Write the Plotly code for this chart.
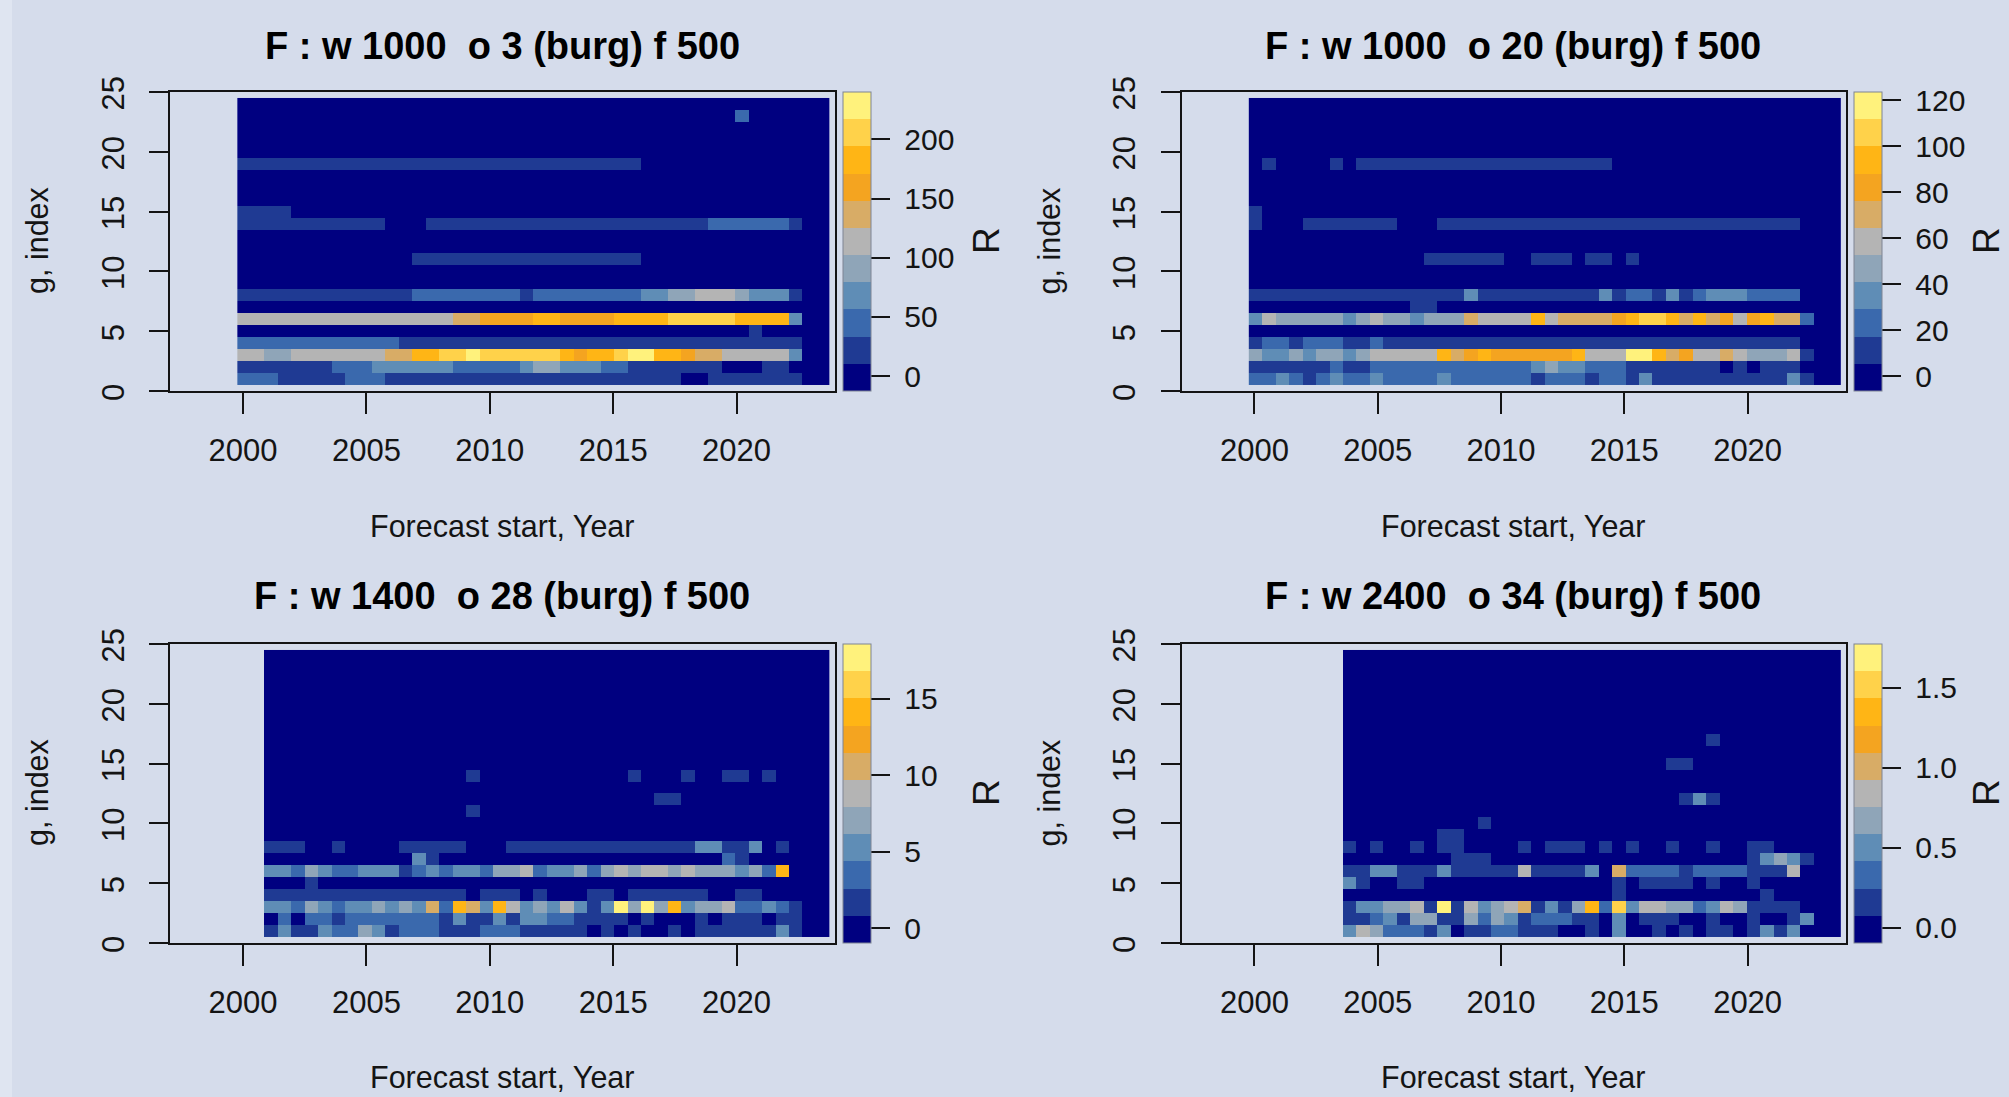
import plotly.graph_objects as go

W, H = 2009, 1097
BG = "#d5dceb"
STRIP = "#dfe5f1"
INK = "#141414"
FONT = "Liberation Sans, Arial, sans-serif"

PALETTE = ["#000080", "#1f3a93", "#3a69ad", "#5f8db6", "#8fa5b8", "#b4b4b4",
           "#d8ac66", "#f4a420", "#ffb515", "#ffd24a", "#fff27c"]

YEAR_TICKS = [2000, 2005, 2010, 2015, 2020]
INDEX_TICKS = [0, 5, 10, 15, 20, 25]
FIRST_EDGE = 1999.77
COL_STEP = 0.5455
N_COLS = 44
N_ROWS = 24

# ---- panel 1: w 1000, o 3 ----
P1_TITLE = "F : w 1000\u00a0\u00a0o 3 (burg) f 500"
P1_ZLIM = [-12.5, 240]
P1_CB_TICKS = [0, 50, 100, 150, 200]
P1_CB_TEXT = ["0", "50", "100", "150", "200"]
P1_R01 = [45]*3+[22]*5+[45]*3+[22]*22+[0]*2+[22]*7+[0]*2
P1_R02 = [22]*7+[45]*3+[68]*6+[45]*5+[68]+[91]*2+[68]*3+[45]*2+[22]*7+[0]*3+[22]*2+[0]*3
P1_R03 = [114]*2+[91]*2+[114]*7+[137]*2+[183]*2+[206]*2+[229]+[206]*6+[183]+[160]+[183]*2+[206]+[229]*2+[183]*2+[160]+[137]*2+[114]*5+[68]+[0]*2
P1_R04 = [45]*12+[22]*30+[0]*2
P1_R05 = [0]*38+[22]+[0]*5
P1_R06 = [114]*16+[137]*2+[160]*4+[183]*2+[160]*4+[183]*4+[206]*5+[183]*4+[68]+[0]*2
P1_R08 = [22]*13+[45]*8+[22]+[45]*8+[68]*2+[91]*2+[114]*3+[91]+[68]*3+[22]+[0]*2
P1_R11 = [0]*13+[22]*17+[0]*14
P1_R14 = [22]*11+[0]*3+[22]*21+[45]*6+[22]+[0]*2
P1_R15 = [22]*4+[0]*40
P1_R19 = [22]*30+[0]*14
P1_R23 = [0]*37+[45]+[0]*6
P1_ROWS = {1: P1_R01, 2: P1_R02, 3: P1_R03, 4: P1_R04, 5: P1_R05, 6: P1_R06,
           8: P1_R08, 11: P1_R11, 14: P1_R14, 15: P1_R15, 19: P1_R19, 23: P1_R23}

# ---- panel 2: w 1000, o 20 ----
P2_TITLE = "F : w 1000\u00a0\u00a0o 20 (burg) f 500"
P2_ZLIM = [-6.4, 123.6]
P2_CB_TICKS = [0, 20, 40, 60, 80, 100, 120]
P2_CB_TEXT = ["0", "20", "40", "60", "80", "100", "120"]
P2_R01 = [23]*2+[35]+[23]+[11]+[23]+[35]+[23]*2+[35]+[23]*4+[35]+[23]*6+[11]+[23]*3+[11]+[23]*2+[11]+[35]+[11]*10+[35]+[11]+[0]*2
P2_R02 = [11]*6+[23]+[11]*2+[23]*12+[35]+[47]+[35]*2+[23]*3+[11]*7+[0]+[11]+[0]+[11]*3+[0]*3
P2_R03 = [47]+[35]*2+[47]+[35]+[47]*2+[35]+[47]+[59]*5+[94]+[70]+[82]+[94]+[82]*6+[94]+[59]*3+[118]*2+[94]+[70]+[82]+[59]*2+[70]+[59]+[47]*3+[59]+[11]+[0]*2
P2_R04 = [11]+[23]*2+[11]+[23]*3+[11]*2+[23]+[11]*31+[0]*3
P2_R06 = [35]+[59]+[47]*5+[35]+[47]+[59]+[47]*2+[35]+[47]*3+[70]+[59]*4+[94]+[59]+[70]*4+[82]+[94]+[106]*2+[94]+[70]+[94]+[70]+[82]+[59]+[82]+[94]+[70]*2+[23]+[0]*2
P2_R07 = [0]*12+[11]*2+[0]*30
P2_R08 = [11]*16+[35]+[11]*9+[35]+[11]+[23]*2+[11]+[35]+[11]+[23]+[35]*3+[23]*4+[0]*3
P2_R11 = [0]*13+[11]*6+[0]*2+[11]*3+[0]+[11]*2+[0]+[11]+[0]*15
P2_R14 = [11]+[0]*3+[11]*7+[0]*3+[11]*27+[0]*3
P2_R15 = [11]+[0]*43
P2_R19 = [0]+[11]+[0]*4+[11]+[0]+[11]*19+[0]*17
P2_ROWS = {1: P2_R01, 2: P2_R02, 3: P2_R03, 4: P2_R04, 6: P2_R06, 7: P2_R07,
           8: P2_R08, 11: P2_R11, 14: P2_R14, 15: P2_R15, 19: P2_R19}

# ---- panel 3: w 1400, o 28 ---- (first 2 columns empty)
P3_TITLE = "F : w 1400\u00a0\u00a0o 28 (burg) f 500"
P3_ZLIM = [-0.98, 18.6]
P3_CB_TICKS = [0, 5, 10, 15]
P3_CB_TEXT = ["0", "5", "10", "15"]
P3_PAD = [None]*2
P3_R01 = [1.7]+[5.3]+[1.7]*2+[5.3]+[3.5]*2+[7.0]+[5.3]+[1.7]+[3.5]*3+[1.7]*3+[3.5]*3+[1.7]*5+[0]+[1.7]+[0]+[1.7]+[0]*2+[1.7]+[0]+[1.7]*6+[5.3]+[1.7]+[0]*2
P3_R02 = [0]+[3.5]+[0]+[3.5]*2+[1.7]+[3.5]*7+[1.7]+[5.3]+[1.7]*2+[5.3]+[1.7]+[5.3]*2+[3.5]*2+[1.7]*4+[0]+[1.7]+[0]*3+[1.7]+[0]+[1.7]*3+[0]+[1.7]*2+[0]*2
P3_R03 = [5.3]*2+[3.5]+[7.0]+[5.3]+[3.5]+[5.3]*2+[7.0]+[5.3]+[7.0]+[5.3]+[10.6]+[3.5]+[14.2]+[10.6]+[5.3]+[14.2]+[8.8]+[5.3]+[7.0]+[5.3]+[8.8]+[5.3]+[1.7]+[5.3]+[17.7]+[7.0]+[17.7]+[7.0]+[14.2]+[5.3]+[7.0]*2+[8.8]+[3.5]*2+[5.3]+[3.5]+[1.7]+[0]*2
P3_R04 = [1.7]*15+[0]+[1.7]*3+[0]+[1.7]+[0]*3+[1.7]*2+[0]+[1.7]*6+[0]*2+[1.7]*2+[0]*5
P3_R05 = [0]*3+[1.7]+[0]*38
P3_R06 = [5.3]*2+[3.5]+[7.0]+[5.3]+[3.5]*2+[5.3]*3+[1.7]+[3.5]+[5.3]+[3.5]+[5.3]*2+[3.5]+[7.0]*2+[8.8]+[3.5]+[5.3]*2+[7.0]+[3.5]+[7.0]+[8.8]+[7.0]+[8.8]*2+[7.0]+[8.8]+[7.0]*3+[5.3]+[7.0]+[3.5]+[14.2]+[0]*3
P3_R07 = [0]*11+[5.3]+[1.7]+[0]*21+[3.5]+[1.7]+[0]*6
P3_R08 = [1.7]*3+[0]*2+[1.7]+[0]*4+[1.7]*5+[0]*3+[1.7]*14+[5.3]*2+[1.7]*2+[5.3]+[0]+[1.7]+[0]*3
P3_R11 = [0]*15+[1.7]+[0]*26
P3_R12 = [0]*29+[1.7]*2+[0]*11
P3_R14 = [0]*15+[1.7]+[0]*11+[1.7]+[0]*3+[1.7]+[0]*2+[1.7]*2+[0]+[1.7]+[0]*4
P3_ROWS = {1: P3_R01, 2: P3_R02, 3: P3_R03, 4: P3_R04, 5: P3_R05, 6: P3_R06,
           7: P3_R07, 8: P3_R08, 11: P3_R11, 12: P3_R12, 14: P3_R14}

# ---- panel 4: w 2400, o 34 ---- (first 7 columns empty)
P4_TITLE = "F : w 2400\u00a0\u00a0o 34 (burg) f 500"
P4_ZLIM = [-0.094, 1.773]
P4_CB_TICKS = [0.0, 0.5, 1.0, 1.5]
P4_CB_TEXT = ["0.0", "0.5", "1.0", "1.5"]
P4_PAD = [None]*7
P4_R01 = [.50]+[.84]+[.67]+[.33]*3+[.16]+[.50]+[0]+[.16]*2+[.33]*2+[.16]*3+[0]*2+[.16]+[0]+[.50]+[0]*2+[.16]+[0]+[.16]+[0]+[.16]*2+[0]+[.16]+[.50]+[.16]+[.50]+[0]*3
P4_R02 = [.16]*2+[.33]+[.50]+[.16]+[.67]*2+[.16]*2+[.67]+[.33]+[.67]+[.50]+[.16]+[.33]*3+[.16]*2+[0]+[.50]+[0]+[.16]*3+[0]*2+[.16]+[0]*2+[.16]+[0]*2+[.16]+[.50]+[0]*2
P4_R03 = [.16]+[.50]*2+[.67]*2+[.84]+[.16]+[1.69]+[.16]+[.84]+[.50]+[.67]+[.84]+[1.01]+[.16]+[.50]+[.16]+[.67]+[1.35]+[.33]+[1.52]+[.50]+[.84]*2+[.67]*2+[.33]+[.50]+[.84]+[.67]+[.16]*4+[0]*3
P4_R04 = [0]*20+[.16]+[0]*10+[.16]+[0]*5
P4_R05 = [.50]+[.16]+[0]*2+[.16]*2+[0]*14+[.16]+[0]+[.16]*4+[0]+[.16]+[0]*2+[.16]+[0]*6
P4_R06 = [.16]*2+[.50]*2+[.16]*3+[.50]+[.16]*5+[.84]+[.16]*4+[.50]+[0]+[1.01]+[.33]*4+[.16]+[.33]*4+[.16]*3+[.84]+[0]*3
P4_R07 = [0]*8+[.16]*3+[0]*19+[.16]+[.50]+[.67]+[.50]+[.16]+[0]*2
P4_R08 = [.16]+[0]+[.16]+[0]*2+[.16]+[0]+[.16]*2+[0]*4+[.16]+[0]+[.16]*3+[0]+[.16]+[0]+[.16]+[0]*2+[.16]+[0]*2+[.16]+[0]*2+[.16]*2+[0]*5
P4_R09 = [0]*7+[.16]*2+[0]*28
P4_R10 = [0]*10+[.16]+[0]*26
P4_R12 = [0]*25+[.16]+[.50]+[.16]+[0]*9
P4_R15 = [0]*24+[.16]*2+[0]*11
P4_R17 = [0]*27+[.16]+[0]*9
P4_ROWS = {1: P4_R01, 2: P4_R02, 3: P4_R03, 4: P4_R04, 5: P4_R05, 6: P4_R06, 7: P4_R07,
           8: P4_R08, 9: P4_R09, 10: P4_R10, 12: P4_R12, 15: P4_R15, 17: P4_R17}

X_LABEL = "Forecast start, Year"
Y_LABEL = "g, index"
Z_LABEL = "R"

# layout, in page pixels: box left, right, top, bottom and the centre of the R label
BOXES = [(170, 835, 92, 391), (1181.5, 1846, 92, 391),
         (170, 835, 644, 943), (1181.5, 1846, 644, 943)]
R_LABEL_X = [986, 1986, 986, 1986]
TITLE_Y = [46, 46, 596, 596]
XLABEL_Y = [526, 526, 1077, 1077]
XLIM = [1997.04, 2023.99]
YLIM = [0, 25]

px = lambda v: v / W
py = lambda v: 1 - v / H

def matrix(rows, pad):
    out = []
    for r in range(1, N_ROWS + 1):
        body = rows.get(r, [0] * (N_COLS - len(pad)))
        assert len(pad) + len(body) == N_COLS, (r, len(body))
        out.append(pad + body)
    return out

def steps():
    n = len(PALETTE)
    s = []
    for i, c in enumerate(PALETTE):
        s += [[i / n, c], [(i + 1) / n, c]]
    return s

PANELS = [
    (P1_TITLE, P1_ROWS, [], P1_ZLIM, P1_CB_TICKS, P1_CB_TEXT),
    (P2_TITLE, P2_ROWS, [], P2_ZLIM, P2_CB_TICKS, P2_CB_TEXT),
    (P3_TITLE, P3_ROWS, P3_PAD, P3_ZLIM, P3_CB_TICKS, P3_CB_TEXT),
    (P4_TITLE, P4_ROWS, P4_PAD, P4_ZLIM, P4_CB_TICKS, P4_CB_TEXT),
]

fig = go.Figure()
annotations = []
layout_axes = {}
for i, (title, rows, pad, zlim, cbt, cbx) in enumerate(PANELS):
    l, r, t, b = BOXES[i]
    n = i + 1
    xname, yname = f"x{n}", f"y{n}"
    fig.add_trace(go.Heatmap(
        z=matrix(rows, pad), x0=FIRST_EDGE + COL_STEP / 2, dx=COL_STEP, y0=1, dy=1,
        xaxis=xname, yaxis=yname, zmin=zlim[0], zmax=zlim[1], colorscale=steps(),
        hoverongaps=False,
        colorbar=dict(
            x=px(r + 8), xanchor="left", xpad=0,
            y=py(b), yanchor="bottom", ypad=0,
            len=(b - t) / H, lenmode="fraction",
            thickness=27.5, thicknessmode="pixels",
            tickmode="array", tickvals=cbt,
            ticktext=["\u00a0" + s for s in cbx],
            ticks="outside", ticklen=19, tickwidth=1.5, tickcolor=INK,
            tickfont=dict(family=FONT, size=30, color=INK),
            outlinewidth=1, outlinecolor="#7e8494", borderwidth=0,
        ),
    ))
    axis_common = dict(showgrid=False, zeroline=False, showline=True, mirror=True,
                       linecolor=INK, linewidth=1.5, ticks="outside", tickcolor=INK,
                       tickwidth=1.5, tickfont=dict(family=FONT, size=31, color=INK),
                       fixedrange=True)
    layout_axes[f"xaxis{n}"] = dict(
        domain=[px(l), px(r)], anchor=yname, range=XLIM, tickmode="array",
        tickvals=YEAR_TICKS, ticktext=[str(v) for v in YEAR_TICKS],
        ticklen=21, ticklabelstandoff=10, **axis_common)
    layout_axes[f"yaxis{n}"] = dict(
        domain=[py(b), py(t)], anchor=xname, range=YLIM, tickmode="array",
        tickvals=INDEX_TICKS, ticktext=[str(v) for v in INDEX_TICKS], tickangle=-90,
        ticklen=19, ticklabelstandoff=13, ticklabelshift=6, **axis_common)
    mid = (l + r) / 2 - 0.5
    ymid = (t + b) / 2 - 0.5
    lab = dict(xref="paper", yref="paper", showarrow=False, xanchor="center", yanchor="middle")
    annotations += [
        dict(x=px(mid), y=py(TITLE_Y[i]), text=f"<b>{title}</b>",
             font=dict(family=FONT, size=38, color="#000"), **lab),
        dict(x=px(mid), y=py(XLABEL_Y[i]), text=X_LABEL,
             font=dict(family=FONT, size=30.5, color=INK), **lab),
        dict(x=px(l - 133), y=py(ymid), text=Y_LABEL, textangle=-90,
             font=dict(family=FONT, size=30.5, color=INK), **lab),
        dict(x=px(R_LABEL_X[i]), y=py(ymid), text=Z_LABEL, textangle=-90,
             font=dict(family=FONT, size=37, color=INK), **lab),
    ]

fig.update_layout(
    width=W, height=H, margin=dict(l=0, r=0, t=0, b=0, autoexpand=False),
    paper_bgcolor=BG, plot_bgcolor=BG, showlegend=False,
    annotations=annotations,
    shapes=[dict(type="rect", xref="paper", yref="paper", x0=0, x1=px(12), y0=0, y1=1,
                 fillcolor=STRIP, line_width=0, layer="below")],
    **layout_axes,
)
fig.write_html("out.html", config={"displayModeBar": False},
               post_script="document.body.style.margin='0';document.body.style.overflow='hidden';")
